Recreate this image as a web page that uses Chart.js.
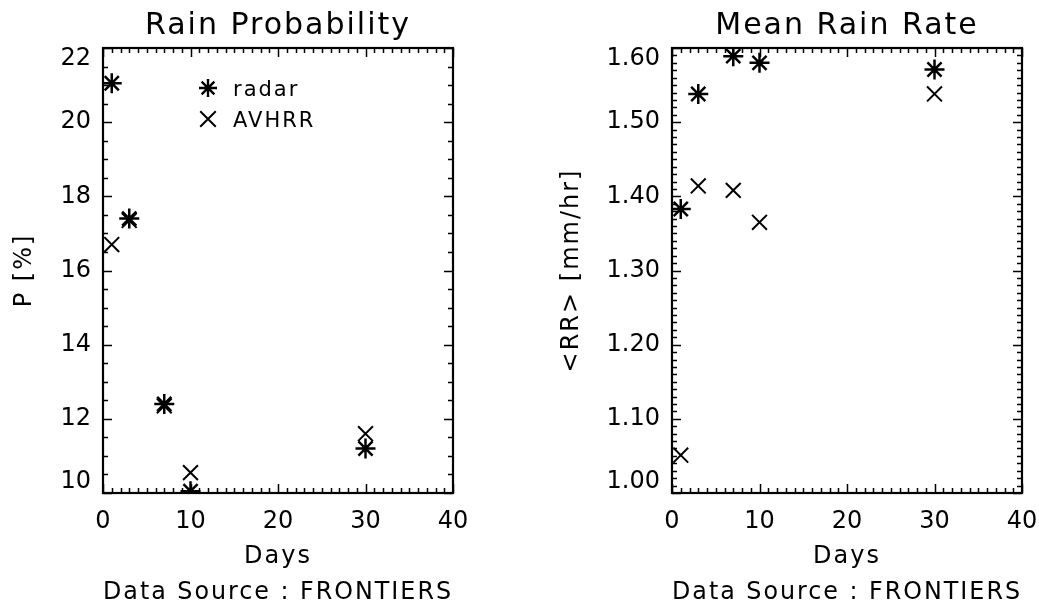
<!DOCTYPE html>
<html>
<head>
<meta charset="utf-8">
<title>Rain Probability / Mean Rain Rate</title>
<script src="https://cdn.jsdelivr.net/npm/chart.js@4.4.1/dist/chart.umd.min.js"></script>
<style>
  html, body { margin: 0; padding: 0; background: #fff; }
  #wrap { position: relative; width: 1039px; height: 605px; }
  canvas { position: absolute; top: 0; }
  #probChart { left: 0; }
  #rateChart { left: 519px; }
</style>
</head>
<body>
<div id="wrap">
  <canvas id="probChart" width="519" height="605"></canvas>
  <canvas id="rateChart" width="520" height="605"></canvas>
</div>
<script>
// averaging period in days
const days = [1, 3, 7, 10, 30];
const seriesNames = ['radar', 'AVHRR'];

// rain probability, %
const probRadar = [21.05, 17.4, 12.4, 10.05, 11.2];
const probAvhrr = [16.7, 17.35, 12.35, 10.55, 11.6];

// mean rain rate, mm/hr
const rateRadar = [1.383, 1.538, 1.589, 1.58, 1.571];
const rateAvhrr = [1.051, 1.414, 1.408, 1.365, 1.538];

// axis ranges [min, max, major step]
const dayAxis = [0, 40, 10];
const probAxis = [10, 22, 2];
const rateAxis = [1.0, 1.6, 0.1];

const FONT = 'DejaVu Sans';
Chart.defaults.font.family = FONT;
Chart.defaults.color = '#000';

const toPoints = (xs, ys) => xs.map((d, i) => ({ x: d, y: ys[i] }));

function markPath(ctx, style, cx, cy, r) {
  ctx.beginPath();
  if (style === 'star') {
    for (let k = 0; k < 4; k++) {
      const a = k * Math.PI / 4;
      ctx.moveTo(cx - Math.cos(a) * r, cy - Math.sin(a) * r);
      ctx.lineTo(cx + Math.cos(a) * r, cy + Math.sin(a) * r);
    }
  } else {
    const d = r * Math.SQRT1_2;
    ctx.moveTo(cx - d, cy - d); ctx.lineTo(cx + d, cy + d);
    ctx.moveTo(cx - d, cy + d); ctx.lineTo(cx + d, cy - d);
  }
  ctx.stroke();
}

// box around the plot with inward ticks on all four sides
const frameTicks = {
  id: 'frameTicks',
  beforeDraw(chart) {
    chart.ctx.letterSpacing = '2px';
  },
  beforeDatasetsDraw(chart, args, opts) {
    const { ctx, chartArea: a } = chart;
    const x = chart.scales.x, y = chart.scales.y;
    ctx.save();
    ctx.strokeStyle = '#000';
    ctx.lineWidth = 1.5;
    ctx.beginPath();
    const nx = Math.round((x.max - x.min) / opts.xMinor);
    for (let i = 0; i <= nx; i++) {
      const px = Math.round(x.getPixelForValue(x.min + i * opts.xMinor)) + 0.5;
      const len = i % opts.xEvery === 0 ? 9 : 5;
      ctx.moveTo(px, a.bottom); ctx.lineTo(px, a.bottom - len);
      ctx.moveTo(px, a.top); ctx.lineTo(px, a.top + len);
    }
    const ny = Math.round((y.max - y.min) / opts.yMinor);
    for (let i = 0; i <= ny; i++) {
      const py = Math.round(y.getPixelForValue(y.min + i * opts.yMinor)) + 0.5;
      const len = i % opts.yEvery === 0 ? 9 : 5;
      ctx.moveTo(a.left, py); ctx.lineTo(a.left + len, py);
      ctx.moveTo(a.right, py); ctx.lineTo(a.right - len, py);
    }
    ctx.stroke();
    ctx.lineWidth = 2.2;
    ctx.strokeRect(a.left, a.top, a.right - a.left, a.bottom - a.top);
    ctx.restore();
  },
  afterDatasetsDraw(chart) {
    chart.ctx.letterSpacing = '0px';
  }
};

// symbol key in the upper part of the plot
const symbolKey = {
  id: 'symbolKey',
  afterDatasetsDraw(chart, args, opts) {
    if (!opts.show) return;
    const { ctx, chartArea: a } = chart;
    ctx.save();
    ctx.strokeStyle = '#000';
    ctx.fillStyle = '#000';
    ctx.letterSpacing = '2px';
    ctx.font = '21px "' + FONT + '"';
    ctx.textBaseline = 'alphabetic';
    const styles = ['star', 'crossRot'];
    const radii = [9, 11];
    const widths = [2.4, 2];
    seriesNames.forEach((name, i) => {
      const cy = a.top + 40 + i * 31;
      ctx.lineWidth = widths[i];
      markPath(ctx, styles[i], a.left + 105, cy, radii[i]);
      ctx.fillText(name, a.left + 130, cy + 8);
    });
    ctx.restore();
  }
};

// first and last labels sit just inside the box
function edgeLabel(digits) {
  return (value, index, ticks) => {
    const s = digits ? value.toFixed(digits) : String(Math.round(value));
    if (index === 0) return [s, ''];
    if (index === ticks.length - 1) return ['', s];
    return s;
  };
}

function makePanel(canvasId, cfg) {
  return new Chart(document.getElementById(canvasId), {
    type: 'scatter',
    data: {
      datasets: [{
        label: seriesNames[0],
        data: toPoints(days, cfg.radar),
        pointStyle: 'star',
        pointRadius: 10,
        pointHoverRadius: 10,
        borderColor: '#000',
        backgroundColor: 'transparent',
        borderWidth: 2.5
      }, {
        label: seriesNames[1],
        data: toPoints(days, cfg.avhrr),
        pointStyle: 'crossRot',
        pointRadius: 10.5,
        pointHoverRadius: 10.5,
        borderColor: '#000',
        backgroundColor: 'transparent',
        borderWidth: 2
      }]
    },
    options: {
      responsive: false,
      animation: false,
      events: [],
      layout: { padding: { left: 0, right: cfg.padRight, top: 0, bottom: 0 } },
      scales: {
        x: {
          type: 'linear',
          min: dayAxis[0], max: dayAxis[1],
          grid: { display: false, drawTicks: false },
          border: { display: false },
          ticks: { stepSize: dayAxis[2], padding: 17, z: 1, font: { size: 24, lineHeight: '24px' } },
          title: { display: true, text: 'Days', font: { size: 24, lineHeight: '24px' }, padding: { top: 0, bottom: 12 } },
          afterFit: s => { s.height = 88; s.paddingLeft = 0; s.paddingRight = 0; }
        },
        y: {
          type: 'linear',
          min: cfg.axis[0], max: cfg.axis[1],
          grid: { display: false, drawTicks: false },
          border: { display: false },
          ticks: {
            stepSize: cfg.axis[2], padding: 12, z: 1,
            font: { size: 24, lineHeight: '22px' },
            callback: edgeLabel(cfg.digits)
          },
          title: { display: true, text: cfg.yTitle, font: { size: 24, lineHeight: '24px' }, padding: { top: cfg.yTitlePad, bottom: 0 } },
          afterFit: s => { s.width = cfg.yWidth; s.paddingTop = 0; s.paddingBottom = 0; }
        }
      },
      plugins: {
        legend: { display: false },
        tooltip: { enabled: false },
        title: {
          display: true, text: cfg.title, fullSize: false, color: '#000',
          font: { size: 30, weight: 'normal', lineHeight: '36px' },
          padding: { top: 8, bottom: 4 }
        },
        subtitle: {
          display: true, text: 'Data Source : FRONTIERS', position: 'bottom', fullSize: false, color: '#000',
          font: { size: 24, weight: 'normal', lineHeight: '24px' },
          padding: { top: 0, bottom: 0 }
        },
        frameTicks: { xMinor: 1, xEvery: 10, yMinor: cfg.minor, yEvery: cfg.every },
        symbolKey: { show: cfg.key }
      }
    },
    plugins: [frameTicks, symbolKey]
  });
}

makePanel('probChart', {
  title: 'Rain Probability', yTitle: 'P [%]', radar: probRadar, avhrr: probAvhrr,
  axis: probAxis, digits: 0, minor: 0.5, every: 4,
  yWidth: 103, yTitlePad: 13, padRight: 66, key: true
});

makePanel('rateChart', {
  title: 'Mean Rain Rate', yTitle: '<RR> [mm/hr]', radar: rateRadar, avhrr: rateAvhrr,
  axis: rateAxis, digits: 2, minor: 0.01, every: 10,
  yWidth: 153, yTitlePad: 41, padRight: 17, key: false
});
</script>
</body>
</html>
